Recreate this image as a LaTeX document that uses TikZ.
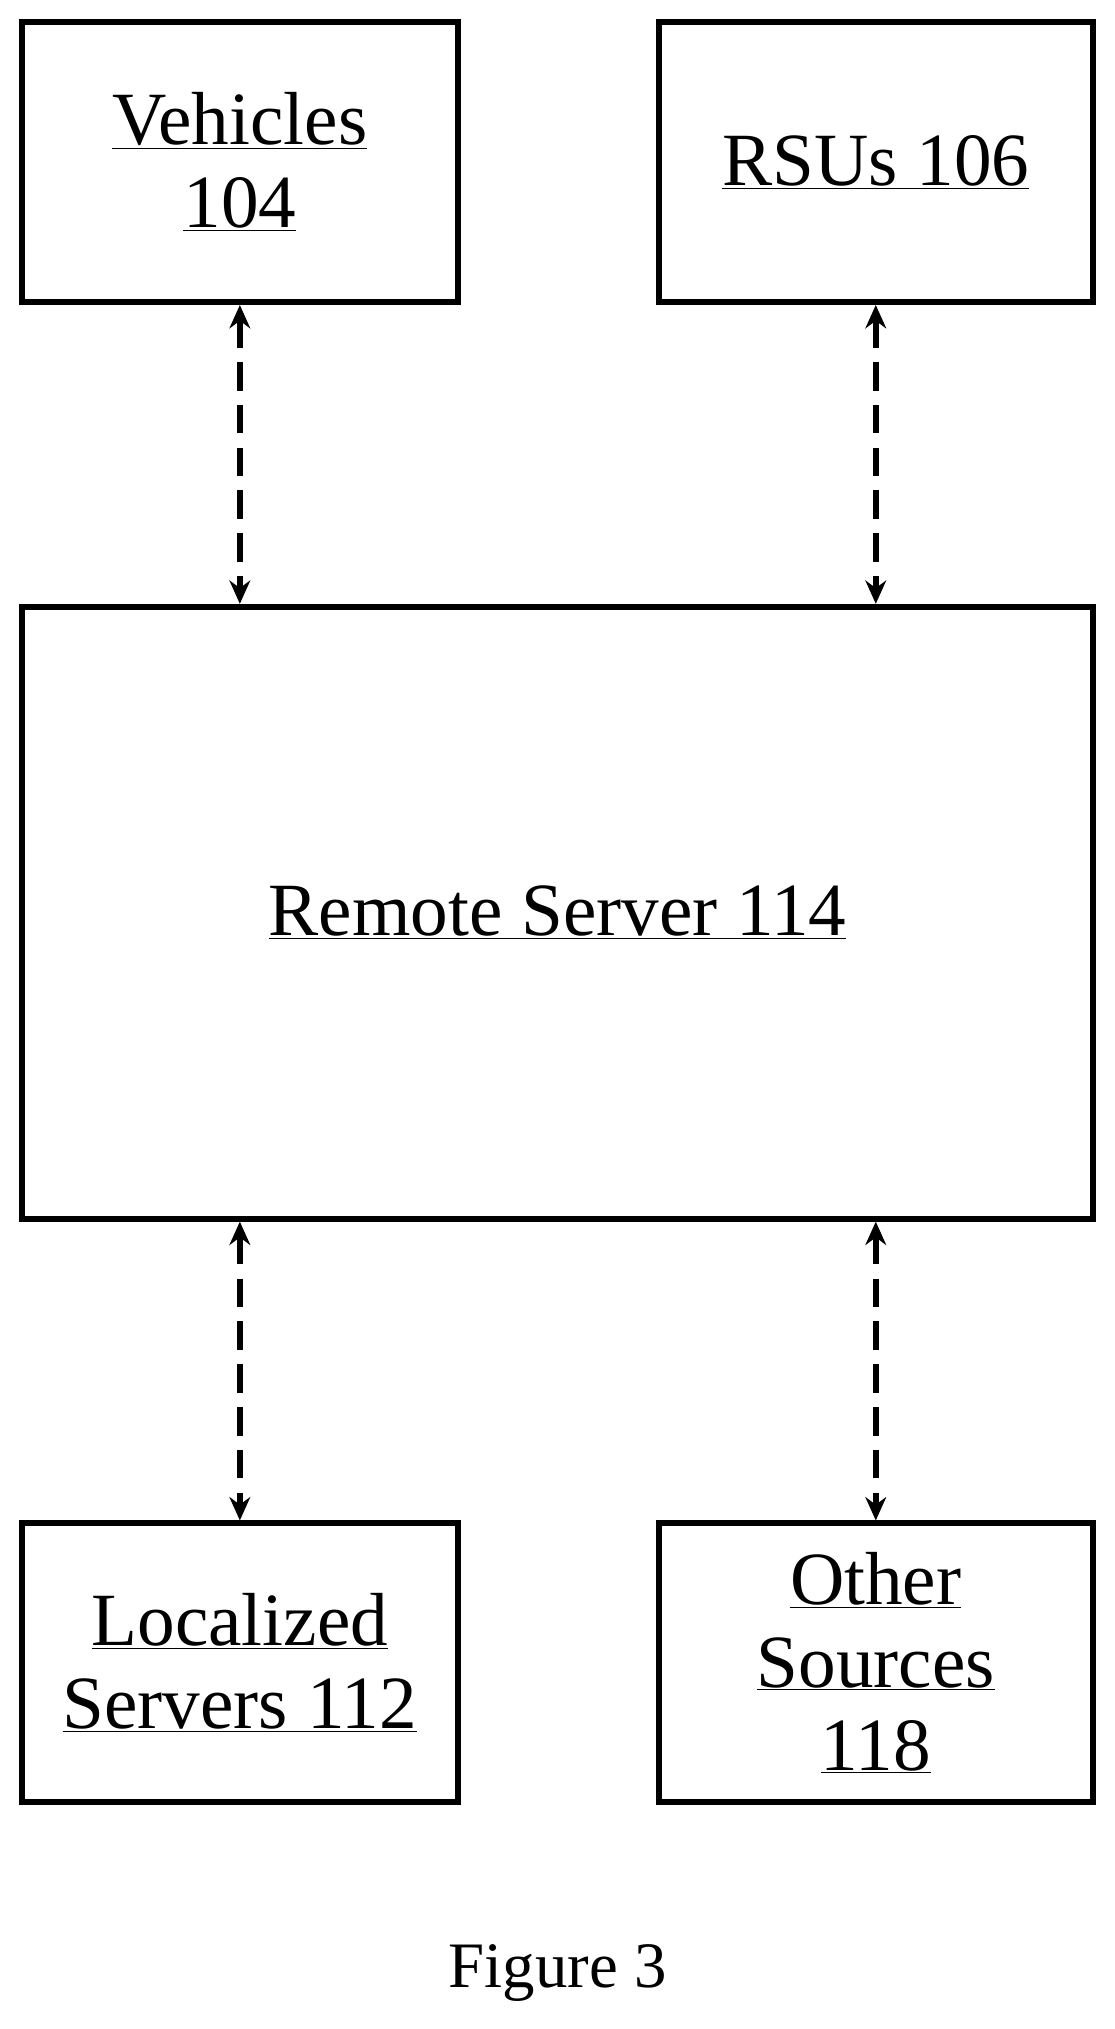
\documentclass[tikz,border=0pt]{standalone}
\usepackage{fontspec}
\setmainfont{Liberation Serif}
\usetikzlibrary{arrows.meta}
\begin{document}
\begin{tikzpicture}[x=1pt,y=-1pt,
  box/.style={draw,line width=4.5pt,inner sep=0pt,font=\fontsize{58}{64}\selectfont,align=center},
  link/.style={line width=5pt,dash pattern=on 22pt off 11pt,{Stealth[length=18pt,width=16pt]}-{Stealth[length=18pt,width=16pt]}}]
\useasboundingbox (0,0) rectangle (860,1565);
\node[box,minimum width=336pt,minimum height=216pt] (veh) at (185,125) {\underline{Vehicles}\\\underline{104}};
\node[box,minimum width=335pt,minimum height=216pt] (rsu) at (675.5,125) {\underline{RSUs 106}};
\node[box,minimum width=826pt,minimum height=472pt] (rs) at (430,704) {\underline{Remote Server 114}};
\node[box,minimum width=336pt,minimum height=215pt] (loc) at (185,1282.5) {\underline{Localized}\\\underline{Servers 112}};
\node[box,minimum width=335pt,minimum height=215pt] (oth) at (675.5,1282.5) {\underline{Other}\\\underline{Sources}\\\underline{118}};
\node[font=\fontsize{50}{56}\selectfont] (fig) at (430,1522) {Figure 3};
\draw[link] (veh.south) -- (veh.south |- rs.north);
\draw[link] (rsu.south) -- (rsu.south |- rs.north);
\draw[link] (rs.south -| loc.north) -- (loc.north);
\draw[link] (rs.south -| oth.north) -- (oth.north);
\end{tikzpicture}
\end{document}
